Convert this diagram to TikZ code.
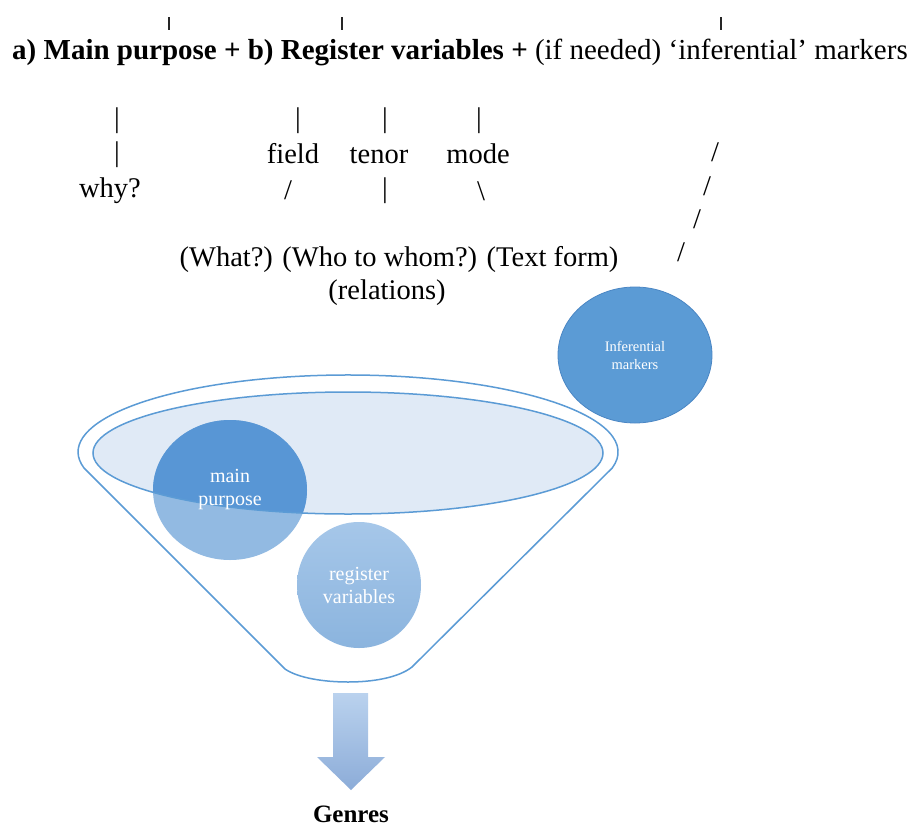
\documentclass[tikz,border=0pt]{standalone}
\usepackage{fontspec}
\setmainfont{Liberation Serif}
\usetikzlibrary{shapes.geometric}
\definecolor{rimblue}{HTML}{5B9BD5}
\definecolor{bowlfill}{HTML}{E0EAF6}
\definecolor{mpdark}{HTML}{5896D5}
\definecolor{mplight}{HTML}{92BAE2}
\definecolor{rvtop}{HTML}{A6C7E9}
\definecolor{rvbot}{HTML}{8BB4DE}
\definecolor{infill}{HTML}{5B9BD5}
\definecolor{inedge}{HTML}{4A86C4}
\definecolor{arrtop}{HTML}{BAD2EE}
\definecolor{arrbot}{HTML}{8CACD8}
\begin{document}
\begin{tikzpicture}[x=1pt,y=-1pt,
  title/.style={font=\fontsize{29}{34}\selectfont, inner sep=0pt, anchor=base},
  word/.style={font=\fontsize{28.5}{33}\selectfont, inner sep=0pt, anchor=base},
  glyph/.style={font=\fontsize{28.5}{33}\selectfont, inner sep=0pt, anchor=center},
  tick/.style={line width=1.4pt, black!85},
  bubble/.style={ellipse, inner sep=0pt, text=white, align=center},
  funnel/.style={draw=rimblue, line width=1.5pt}]
\useasboundingbox (0,0) rectangle (914,828);
\fill[white] (0,0) rectangle (914,828);

% heading line and the bars above it
\node[title] (head) at (460,59) {\textbf{a) Main purpose + b) Register variables +} (if needed) ‘inferential’ markers};
\foreach \n/\x in {a/169,b/342,c/721}{
  \coordinate (tk\n1) at (\x,17);
  \coordinate (tk\n2) at (\x,30);
  \draw[tick] (tk\n1) -- (tk\n2);
}

% main purpose branch
\node[glyph] (bar1) at (117,121) {|};
\node[glyph] (bar2) at (117,155) {|};
\node[word] (why) at (110,197) {why?};

% register variables branch
\node[glyph] (bar3) at (298,121) {|};
\node[glyph] (bar4) at (385,121) {|};
\node[glyph] (bar5) at (479,121) {|};
\node[word] (field) at (293,163) {field};
\node[word] (tenor) at (379,163) {tenor};
\node[word] (mode) at (478,163) {mode};
\node[glyph] (sl1) at (288,190) {/};
\node[glyph] (bar6) at (385,191) {|};
\node[glyph] (bs1) at (481,191) {\textbackslash};
\node[word] (questions) at (399,266) {(What?) (Who to whom?) (Text form)};
\node[word] (relations) at (387,299) {(relations)};

% dashed slant towards the inferential markers
\node[glyph] (ds1) at (715,152) {/};
\node[glyph] (ds2) at (707,186) {/};
\node[glyph] (ds3) at (697,219) {/};
\node[glyph] (ds4) at (681,252) {/};

% inferential markers bubble
\node[bubble, fill=infill, draw=inedge, line width=0.8pt,
      minimum width=154, minimum height=136,
      font=\fontsize{14.5}{18}\selectfont] (inf) at (635,355) {Inferential\\markers};

% funnel outline
\draw[funnel] (84,468) arc[start angle=168, end angle=372, x radius=270, y radius=77]
  -- (412,667) .. controls (398,678) and (372,682) .. (348,682)
  .. controls (324,682) and (298,678) .. (285,669) -- cycle;

% bowl surface
\fill[bowlfill] (348,453) ellipse [x radius=255, y radius=61];

% register variables bubble
\node[bubble, top color=rvtop, bottom color=rvbot,
      minimum width=124, minimum height=126,
      font=\fontsize{20}{23}\selectfont] (rv) at (359,585) {register\\variables};

% main purpose bubble: lighter below the surface, darker inside it
\node[bubble, fill=mplight, minimum width=154, minimum height=140] (mp) at (230,490) {};
\begin{scope}
  \clip (348,453) ellipse [x radius=255, y radius=61];
  \fill[mpdark] (mp.center) ellipse [x radius=77, y radius=70];
\end{scope}
\draw[rimblue, line width=1.5pt] (348,453) ellipse [x radius=255, y radius=61];
\node[text=white, align=center, inner sep=0pt, font=\fontsize{20}{23}\selectfont] (mptext) at (mp.center) {main\\purpose};

% output arrow
\shade[top color=arrtop, bottom color=arrbot]
  (333,693) -- (368,693) -- (368,757) -- (385,757) -- (351,790) -- (317,757) -- (333,757) -- cycle;
\node[title, font=\fontsize{25}{30}\selectfont\bfseries] (genres) at (351,822) {Genres};
\end{tikzpicture}
\end{document}
